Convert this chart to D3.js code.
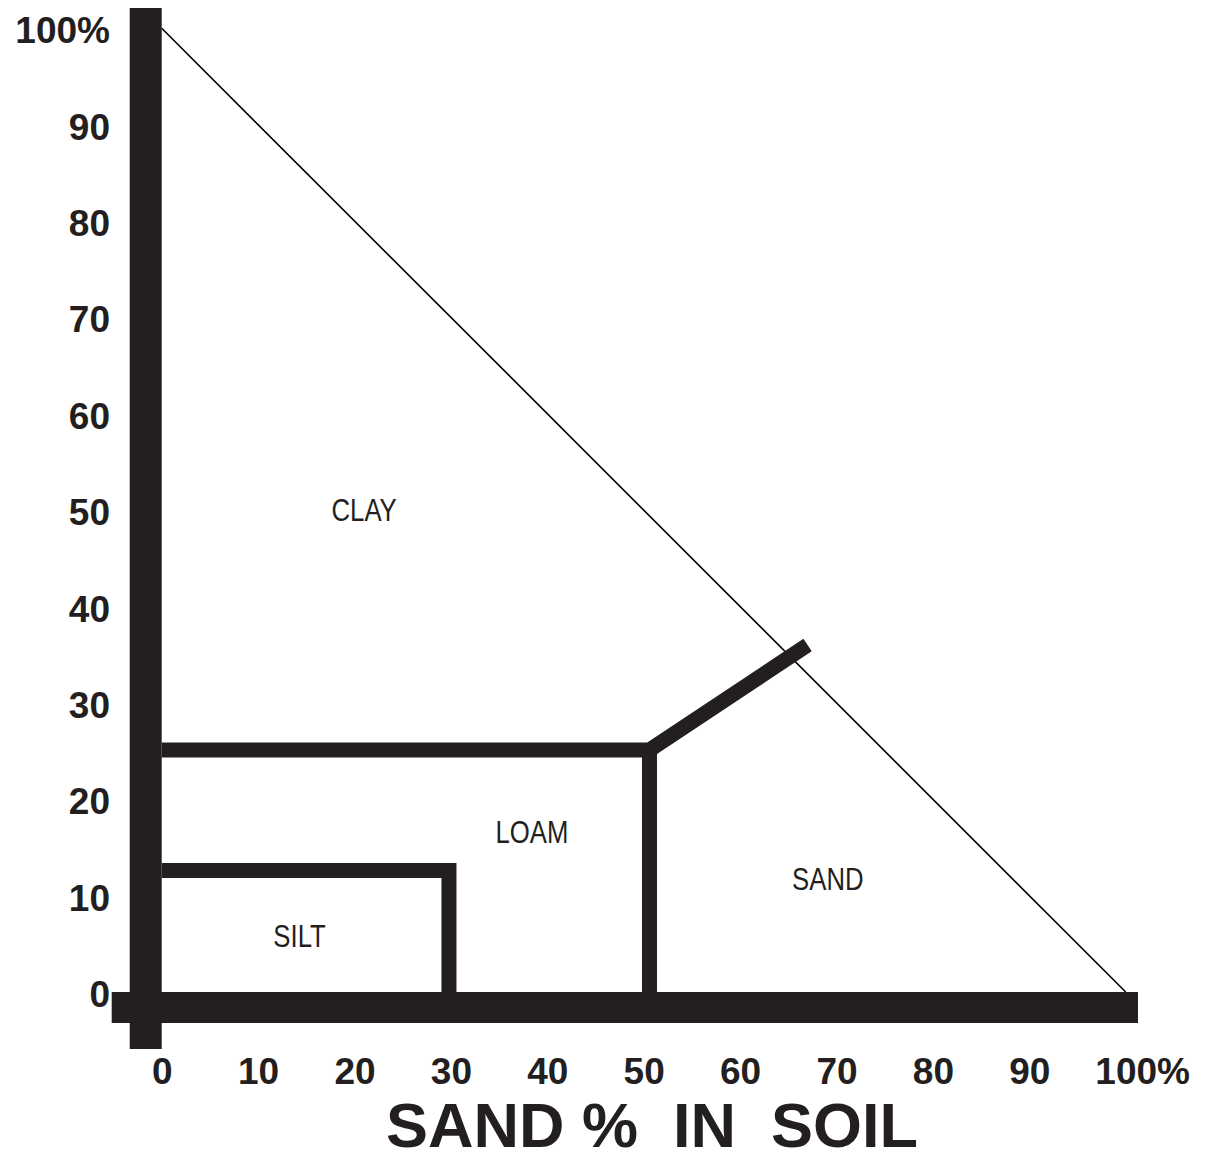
<!DOCTYPE html>
<html>
<head>
<meta charset="utf-8">
<script src="https://cdn.jsdelivr.net/npm/d3@7"></script>
<style>
  html, body { margin: 0; padding: 0; background: #ffffff; }
  svg { display: block; }
</style>
</head>
<body>
<svg id="chart" width="1208" height="1161"></svg>
<script>
// ---- data ----
const xTicks = [0, 10, 20, 30, 40, 50, 60, 70, 80, 90, 100];
const yTicks = [0, 10, 20, 30, 40, 50, 60, 70, 80, 90, 100];
const xTitle = "SAND %  IN  SOIL";

// region labels (sand %, clay %)
const regionNames = ["CLAY", "LOAM", "SILT", "SAND"];
const regionSand  = [21, 38.4, 14.3, 69.1];
const regionClay  = [50, 16.6, 5.8, 11.7];

// boundary lines (sand %, clay %)
const siltSand = [0, 29.8, 29.8];
const siltClay = [12.6, 12.6, 0];
const loamTopSand = [0, 50.6, 67];
const loamTopClay = [25.1, 25.1, 36];
const loamSandSand = [50.6, 50.6];
const loamSandClay = [25.1, 0];
// limit line: sand + clay = 100
const limitSand = [0, 100];
const limitClay = [100, 0];

// ---- drawing ----
const ink = "#231f20";
const svg = d3.select("#chart");
svg.append("rect").attr("width", 1208).attr("height", 1161).attr("fill", "#fff");

const x = d3.scaleLinear().domain([0, 100]).range([161.7, 1125.7]);
const y = d3.scaleLinear().domain([0, 100]).range([992, 28.3]);

const line = (xs, ys) => d3.line()(xs.map((v, i) => [x(v), y(ys[i])]));

// thin limit diagonal
svg.append("path").attr("d", line(limitSand, limitClay))
  .attr("fill", "none").attr("stroke", "#000").attr("stroke-width", 1.6);

// boundaries
[[siltSand, siltClay], [loamTopSand, loamTopClay], [loamSandSand, loamSandClay]].forEach(([xs, ys]) => {
  svg.append("path").attr("d", line(xs, ys))
    .attr("fill", "none").attr("stroke", ink).attr("stroke-width", 15)
    .attr("stroke-linejoin", "miter").attr("stroke-linecap", "butt");
});

// thick axis bars
svg.append("rect")
  .attr("x", x(0) - 32).attr("width", 32)
  .attr("y", y(100) - 20.3).attr("height", (y(0) + 57) - (y(100) - 20.3))
  .attr("fill", ink);
svg.append("rect")
  .attr("x", x(0) - 50).attr("width", (x(100) + 12.3) - (x(0) - 50))
  .attr("y", y(0)).attr("height", 31)
  .attr("fill", ink);

// x axis labels
const gx = svg.append("g").attr("transform", `translate(0,${y(0)})`)
  .call(d3.axisBottom(x).tickValues(xTicks).tickSize(0).tickFormat(d => d === 100 ? "100" : d));
gx.select(".domain").remove();
gx.selectAll("text")
  .attr("y", 92).attr("dy", null)
  .attr("font-family", "'Liberation Sans', Arial, Helvetica, sans-serif")
  .attr("font-weight", "bold").attr("font-size", 37).attr("fill", ink);
gx.selectAll(".tick").filter(d => d === 100).select("text").each(function () {
  const w = this.getComputedTextLength();
  d3.select(this).attr("text-anchor", "start").attr("x", -w / 2).text("100%");
});

// y axis labels
const gy = svg.append("g").attr("transform", `translate(${x(0)},0)`)
  .call(d3.axisLeft(y).tickValues(yTicks).tickSize(0).tickPadding(51.7)
    .tickFormat(d => d === 100 ? "100%" : d));
gy.select(".domain").remove();
gy.selectAll("text")
  .attr("dy", 14.5)
  .attr("font-family", "'Liberation Sans', Arial, Helvetica, sans-serif")
  .attr("font-weight", "bold").attr("font-size", 37).attr("fill", ink);

// region labels
regionNames.forEach((name, i) => {
  svg.append("text")
    .attr("transform", `translate(${x(regionSand[i])},${y(regionClay[i]) + 11}) scale(0.83,1)`)
    .attr("text-anchor", "middle")
    .attr("font-family", "'Liberation Sans', Arial, Helvetica, sans-serif")
    .attr("font-size", 31).attr("fill", ink)
    .text(name);
});

// x title
svg.append("text")
  .attr("transform", `translate(652,1147)`)
  .attr("text-anchor", "middle")
  .attr("xml:space", "preserve").style("white-space", "pre")
  .attr("font-family", "'Liberation Sans', Arial, Helvetica, sans-serif")
  .attr("font-weight", "bold").attr("font-size", 63).attr("fill", ink)
  .text(xTitle);
</script>
</body>
</html>
